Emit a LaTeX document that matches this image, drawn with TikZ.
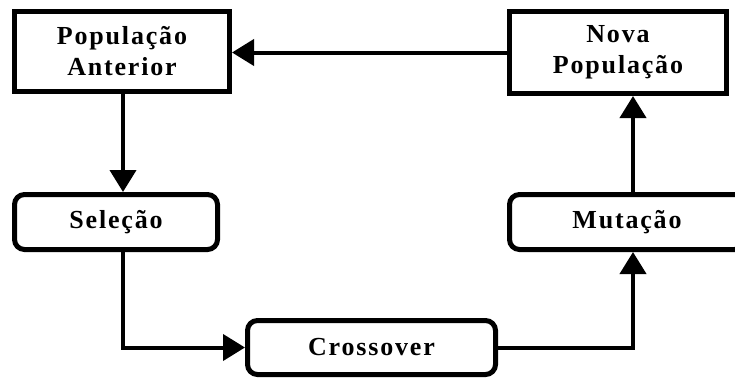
\documentclass[tikz,border=0pt]{standalone}
\usepackage{fontspec}
\setmainfont{Liberation Serif}[LetterSpace=7]
\usetikzlibrary{arrows.meta,calc}

\tikzset{
  box/.style={draw=black, line width=5pt, fill=white, align=center,
    inner sep=0pt, font=\fontsize{26}{31}\selectfont\bfseries},
  squarebox/.style={box},
  roundbox/.style={box, rounded corners=10pt},
  link/.style={line width=4pt, draw=black},
  tip/.style={-{Triangle[width=26pt,length=22pt]}}
}

\begin{document}
\begin{tikzpicture}[x=1pt, y=-1pt]
  \useasboundingbox[fill=white] (0,0) rectangle (735,380);

  % the five stages of the cycle
  \node[squarebox, minimum width=215pt, minimum height=80pt] (pa) at (122,51.5) {População\\Anterior};
  \node[squarebox, minimum width=217pt, minimum height=82pt] (np) at (618,52.5) {Nova\\População};
  \node[roundbox, minimum width=203pt, minimum height=55pt] (sel) at (116,222) {Seleção};
  \node[roundbox, minimum width=248pt, minimum height=54pt] (cr) at (371.5,347.5) {Crossover};
  \node[roundbox, minimum width=235pt, minimum height=55pt] (mu) at (627,222) {Mutação};

  % vertical lanes of the connectors
  \coordinate (xl) at (123,0);
  \coordinate (xr) at (633,0);

  % connectors
  \draw[link, tip] (np.west) -- (np.west -| pa.east);
  \draw[link, tip] (pa.south -| xl) -- (sel.north -| xl);
  \draw[link, tip] (sel.south -| xl) |- (cr.west);
  \draw[link, tip] (cr.east) -| (mu.south -| xr);
  \draw[link, tip] (mu.north -| xr) -- (np.south -| xr);
\end{tikzpicture}
\end{document}
